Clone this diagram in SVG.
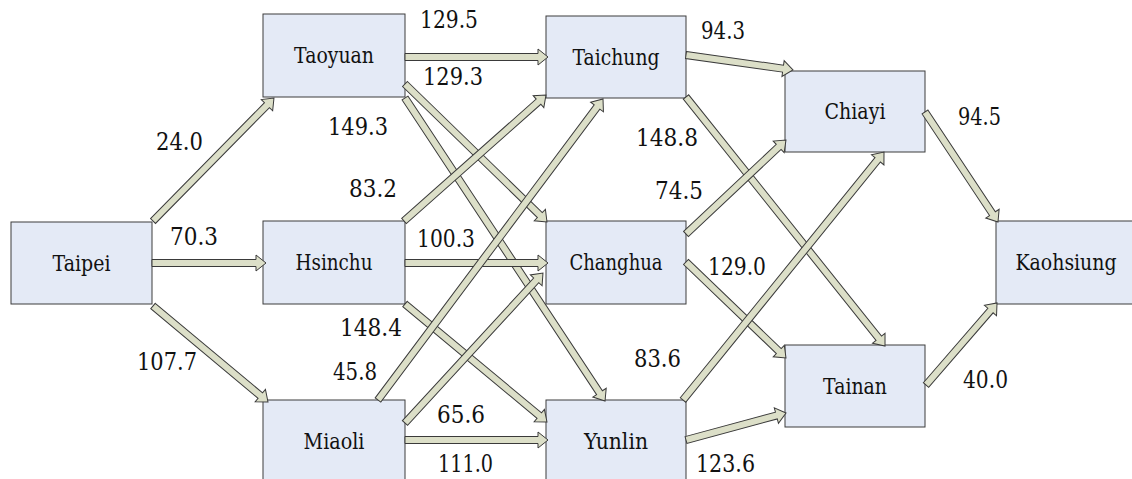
<svg xmlns="http://www.w3.org/2000/svg" width="1132" height="479" viewBox="0 0 1132 479">
<style>
.box{fill:#e4eaf6;stroke:#3c3c3c;stroke-width:1}
.nl{font-family:'DejaVu Serif','Liberation Serif',serif;font-size:22px;fill:#111;text-anchor:middle}
.num{font-family:'DejaVu Serif','Liberation Serif',serif;font-size:23.5px;fill:#111}
.arr{fill:#dcdfc8;stroke:#3a3a3a;stroke-width:1;stroke-linejoin:miter}
</style>
<rect width="1132" height="479" fill="#ffffff"/>
<g id="nodes">
<g id="taipei"><rect class="box" x="11" y="222" width="141" height="82"/><text class="nl" x="81.5" y="271" textLength="58" lengthAdjust="spacingAndGlyphs">Taipei</text></g>
<g id="taoyuan"><rect class="box" x="263" y="14" width="142" height="83"/><text class="nl" x="334" y="63" textLength="80" lengthAdjust="spacingAndGlyphs">Taoyuan</text></g>
<g id="hsinchu"><rect class="box" x="263" y="221" width="142" height="83"/><text class="nl" x="334" y="270" textLength="77" lengthAdjust="spacingAndGlyphs">Hsinchu</text></g>
<g id="miaoli"><rect class="box" x="263" y="400" width="142" height="83"/><text class="nl" x="334" y="449" textLength="61" lengthAdjust="spacingAndGlyphs">Miaoli</text></g>
<g id="taichung"><rect class="box" x="546" y="16" width="140" height="82"/><text class="nl" x="616" y="65" textLength="87" lengthAdjust="spacingAndGlyphs">Taichung</text></g>
<g id="changhua"><rect class="box" x="546" y="221" width="140" height="83"/><text class="nl" x="616" y="270" textLength="93" lengthAdjust="spacingAndGlyphs">Changhua</text></g>
<g id="yunlin"><rect class="box" x="546" y="400" width="140" height="83"/><text class="nl" x="616" y="449" textLength="64" lengthAdjust="spacingAndGlyphs">Yunlin</text></g>
<g id="chiayi"><rect class="box" x="785" y="71" width="140" height="81"/><text class="nl" x="855" y="119" textLength="61" lengthAdjust="spacingAndGlyphs">Chiayi</text></g>
<g id="tainan"><rect class="box" x="785" y="345" width="140" height="82"/><text class="nl" x="855" y="394" textLength="64" lengthAdjust="spacingAndGlyphs">Tainan</text></g>
<g id="kaohsiung"><rect class="box" x="996" y="221" width="141" height="83"/><text class="nl" x="1066" y="270" textLength="101" lengthAdjust="spacingAndGlyphs">Kaohsiung</text></g>
</g>
<g id="connectors">
<path class="arr" transform="translate(153,221) rotate(-45.47)" d="M0,-3.5 H162.5 V-8 L172.5,0 L162.5,8 V3.5 H0 Z"/>
<path class="arr" transform="translate(152,263)" d="M0,-3.5 H104 V-8 L114,0 L104,8 V3.5 H0 Z"/>
<path class="arr" transform="translate(153,306) rotate(39.86)" d="M0,-3.5 H139.8 V-8 L149.8,0 L139.8,8 V3.5 H0 Z"/>
<path class="arr" transform="translate(405,57)" d="M0,-3.5 H133 V-8 L143,0 L133,8 V3.5 H0 Z"/>
<path class="arr" transform="translate(405,84) rotate(44.18)" d="M0,-3.5 H188 V-8 L198,0 L188,8 V3.5 H0 Z"/>
<path class="arr" transform="translate(405,98) rotate(56.57)" d="M0,-3.5 H353.1 V-8 L363.1,0 L353.1,8 V3.5 H0 Z"/>
<path class="arr" transform="translate(404,221) rotate(-41.58)" d="M0,-3.5 H179.8 V-8 L189.8,0 L179.8,8 V3.5 H0 Z"/>
<path class="arr" transform="translate(405,263)" d="M0,-3.5 H133 V-8 L143,0 L133,8 V3.5 H0 Z"/>
<path class="arr" transform="translate(405,304) rotate(39.73)" d="M0,-3.5 H174.6 V-8 L184.6,0 L174.6,8 V3.5 H0 Z"/>
<path class="arr" transform="translate(378,400) rotate(-53.22)" d="M0,-3.5 H365.8 V-8 L375.8,0 L365.8,8 V3.5 H0 Z"/>
<path class="arr" transform="translate(405,423) rotate(-47.39)" d="M0,-3.5 H193.8 V-8 L203.8,0 L193.8,8 V3.5 H0 Z"/>
<path class="arr" transform="translate(405,440)" d="M0,-3.5 H133 V-8 L143,0 L133,8 V3.5 H0 Z"/>
<path class="arr" transform="translate(686,55) rotate(7.98)" d="M0,-3.5 H98 V-8 L108,0 L98,8 V3.5 H0 Z"/>
<path class="arr" transform="translate(686,97) rotate(51.37)" d="M0,-3.5 H308.8 V-8 L318.8,0 L308.8,8 V3.5 H0 Z"/>
<path class="arr" transform="translate(686,234) rotate(-43.23)" d="M0,-3.5 H127.2 V-8 L137.2,0 L127.2,8 V3.5 H0 Z"/>
<path class="arr" transform="translate(686,262) rotate(43.83)" d="M0,-3.5 H128.6 V-8 L138.6,0 L128.6,8 V3.5 H0 Z"/>
<path class="arr" transform="translate(683,400) rotate(-50.97)" d="M0,-3.5 H309.2 V-8 L319.2,0 L309.2,8 V3.5 H0 Z"/>
<path class="arr" transform="translate(686,440) rotate(-15.11)" d="M0,-3.5 H93.6 V-8 L103.6,0 L93.6,8 V3.5 H0 Z"/>
<path class="arr" transform="translate(925,112) rotate(56.43)" d="M0,-3.5 H122 V-8 L132,0 L122,8 V3.5 H0 Z"/>
<path class="arr" transform="translate(926,385) rotate(-49.11)" d="M0,-3.5 H98.5 V-8 L108.5,0 L98.5,8 V3.5 H0 Z"/>
</g>
<g id="labels">
<text class="num" x="156" y="150" textLength="47" lengthAdjust="spacingAndGlyphs">24.0</text>
<text class="num" x="170" y="245" textLength="48" lengthAdjust="spacingAndGlyphs">70.3</text>
<text class="num" x="137" y="370" textLength="60" lengthAdjust="spacingAndGlyphs">107.7</text>
<text class="num" x="420" y="28" textLength="58" lengthAdjust="spacingAndGlyphs">129.5</text>
<text class="num" x="423" y="85" textLength="60" lengthAdjust="spacingAndGlyphs">129.3</text>
<text class="num" x="328" y="135" textLength="60" lengthAdjust="spacingAndGlyphs">149.3</text>
<text class="num" x="349" y="197" textLength="48" lengthAdjust="spacingAndGlyphs">83.2</text>
<text class="num" x="417" y="247" textLength="58" lengthAdjust="spacingAndGlyphs">100.3</text>
<text class="num" x="340" y="336" textLength="62" lengthAdjust="spacingAndGlyphs">148.4</text>
<text class="num" x="333" y="380" textLength="44" lengthAdjust="spacingAndGlyphs">45.8</text>
<text class="num" x="437" y="423" textLength="48" lengthAdjust="spacingAndGlyphs">65.6</text>
<text class="num" x="438" y="472" textLength="55" lengthAdjust="spacingAndGlyphs">111.0</text>
<text class="num" x="701" y="39" textLength="44" lengthAdjust="spacingAndGlyphs">94.3</text>
<text class="num" x="636" y="146" textLength="62" lengthAdjust="spacingAndGlyphs">148.8</text>
<text class="num" x="655" y="199" textLength="48" lengthAdjust="spacingAndGlyphs">74.5</text>
<text class="num" x="708" y="275" textLength="58" lengthAdjust="spacingAndGlyphs">129.0</text>
<text class="num" x="634" y="367" textLength="47" lengthAdjust="spacingAndGlyphs">83.6</text>
<text class="num" x="696" y="472" textLength="59" lengthAdjust="spacingAndGlyphs">123.6</text>
<text class="num" x="958" y="125" textLength="43" lengthAdjust="spacingAndGlyphs">94.5</text>
<text class="num" x="963" y="388" textLength="45" lengthAdjust="spacingAndGlyphs">40.0</text>
</g>
</svg>
